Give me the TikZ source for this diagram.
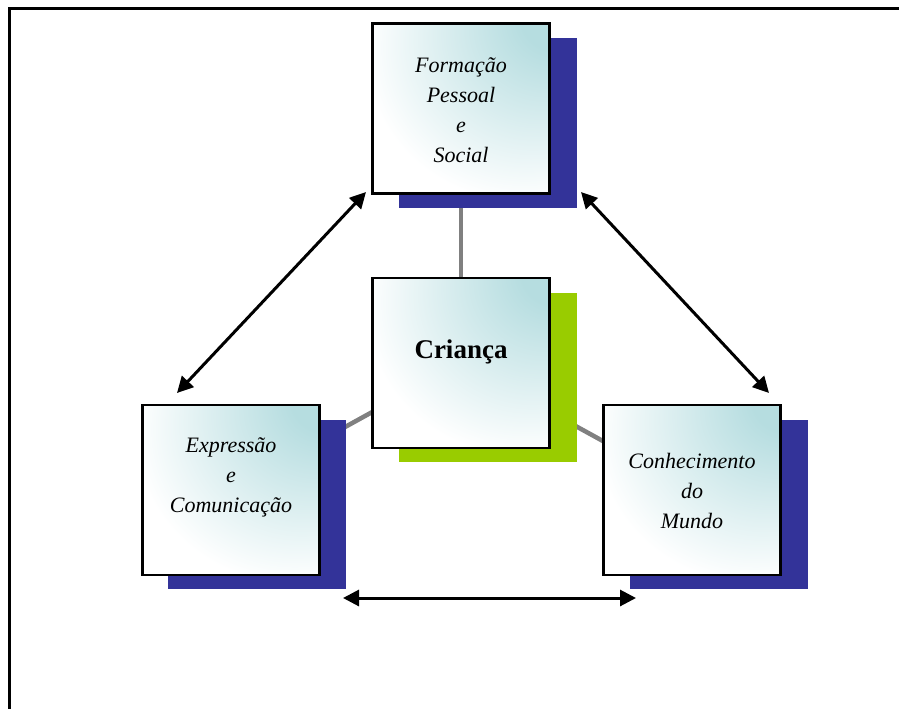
\documentclass[tikz,border=0pt]{standalone}
\usepackage{fontspec}
\setmainfont{Liberation Serif}
\usetikzlibrary{arrows.meta}
\definecolor{shadowblue}{RGB}{51,51,153}
\definecolor{shadowgreen}{RGB}{153,204,0}
\definecolor{boxcyan}{RGB}{182,221,224}
\definecolor{linkgray}{RGB}{128,128,128}
\pgfdeclareradialshading{cardshade}{\pgfpoint{30bp}{30bp}}{color(0bp)=(boxcyan); color(10bp)=(boxcyan); color(44bp)=(white); color(100bp)=(white)}
\tikzset{
  card/.style={draw=black, line width=2.5pt, minimum width=177pt, minimum height=170pt,
    inner sep=0pt, shading=cardshade},
  shadowbox/.style={minimum width=178pt, minimum height=169pt, inner sep=0pt},
  label/.style={font=\itshape\fontsize{22}{30}\selectfont, align=center, inner sep=0pt},
  bigword/.style={font=\bfseries\fontsize{27}{32}\selectfont, inner sep=0pt},
  link/.style={draw=linkgray, line width=4.5pt},
  twoway/.style={line width=3pt, {Triangle[length=16pt,width=16pt]}-{Triangle[length=16pt,width=16pt]}},
  frameline/.style={line width=3pt, black}
}
\begin{document}
\begin{tikzpicture}[x=1pt, y=-1pt]
\useasboundingbox (0,0) rectangle (899,709);
% outer frame (extends past the page)
\draw[frameline] (9,720) -- (9,9) -- (910,9);
% centres of the boxes
\coordinate (cTop) at (461,108.5);
\coordinate (cMid) at (461,363);
\coordinate (cLeft) at (231,490);
\coordinate (cRight) at (692,490);
% gray links (behind everything)
\draw[link] (cMid) -- (cTop);
\draw[link] (cMid) -- (cLeft);
\draw[link] (cMid) -- (cRight);
% shadows
\node[shadowbox, fill=shadowblue] (topsh) at (488,123) {};
\node[shadowbox, fill=shadowgreen] (midsh) at (488,377) {};
\node[shadowbox, fill=shadowblue] (leftsh) at (257,504) {};
\node[shadowbox, fill=shadowblue] (rightsh) at (719,504) {};
% boxes
\node[card] (top) at (cTop) {};
\node[card] (mid) at (cMid) {};
\node[card] (left) at (cLeft) {};
\node[card] (right) at (cRight) {};
% texts
\node[label] (topText) at (461,110) {Formação\\Pessoal\\e\\Social};
\node[bigword] (midText) at (461,352) {Criança};
\node[label] (leftText) at (231,477) {Expressão\\e\\Comunicação};
\node[label] (rightText) at (692,491) {Conhecimento\\do\\Mundo};
% arrow end points
\coordinate (aTL) at (366,192);
\coordinate (aLT) at (177,393);
\coordinate (aTR) at (581,192);
\coordinate (aRT) at (769,393);
\coordinate (aBL) at (343,598);
\coordinate (aBR) at (636,598);
\draw[twoway] (aLT) -- (aTL);
\draw[twoway] (aTR) -- (aRT);
\draw[twoway] (aBL) -- (aBR);
\end{tikzpicture}
\end{document}
